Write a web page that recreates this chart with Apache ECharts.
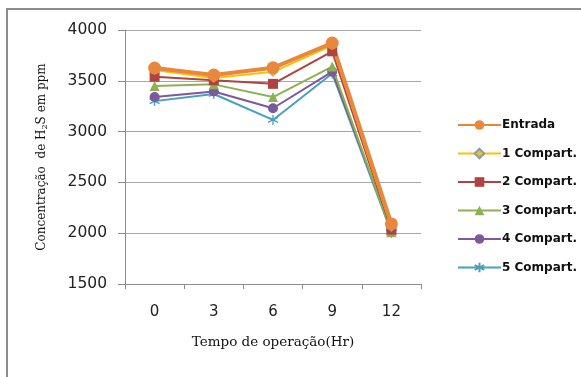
<!DOCTYPE html>
<html><head><meta charset="utf-8">
<script src="https://cdn.jsdelivr.net/npm/echarts@6/dist/echarts.min.js"></script>
<style>html,body{margin:0;padding:0;background:#fff}#c{width:581px;height:377px}</style>
</head><body><div id="c"></div>
<script>
var categories = ['0', '3', '6', '9', '12'];
var seriesNames = ['Entrada', '1 Compart.', '2 Compart.', '3 Compart.', '4 Compart.', '5 Compart.'];
var entrada = [3626, 3557, 3628, 3872, 2091];
var comp1 = [3605, 3528, 3588, 3850, 2060];
var comp2 = [3540, 3505, 3470, 3790, 2035];
var comp3 = [3450, 3465, 3340, 3640, 2010];
var comp4 = [3340, 3395, 3230, 3590, 2030];
var comp5 = [3300, 3370, 3115, 3572, 2005];
var yTicks = [1500, 2000, 2500, 3000, 3500, 4000];

var chart = echarts.init(document.getElementById('c'));
var asterisk = 'path://M0,-10L0,10M-8.66,-5L8.66,5M-8.66,5L8.66,-5';
function s(name, data, color, symbol, size, lw, extra) {
  var o = {
    name: name, type: 'line', data: data, symbol: symbol, symbolSize: size,
    lineStyle: {color: color, width: lw},
    itemStyle: {color: color},
    z: 2
  };
  if (extra) for (var k in extra) o[k] = extra[k];
  return o;
}
chart.setOption({
  animation: false,
  graphic: [{type: 'rect', shape: {x: 7, y: 9, width: 620, height: 420}, style: {fill: 'none', stroke: '#8c8c8c', lineWidth: 2}}],
  grid: {left: 125, right: 160, top: 30, bottom: 93},
  legend: {
    orient: 'vertical', left: 452, top: 114, itemWidth: 43, itemHeight: 12, itemGap: 16.5,
    data: seriesNames,
    textStyle: {fontFamily: 'DejaVu Sans', fontSize: 12, fontWeight: 'bold', color: '#111', padding: [0, 0, 0, -4]}
  },
  xAxis: {
    type: 'category', data: categories, boundaryGap: true,
    name: 'Tempo de operação(Hr)', nameLocation: 'middle', nameGap: 51,
    nameTextStyle: {fontFamily: 'DejaVu Serif', fontSize: 13.5, color: '#111'},
    axisLine: {lineStyle: {color: '#8c8c8c', width: 1}},
    axisTick: {show: true, alignWithLabel: false, length: 5, lineStyle: {color: '#8c8c8c'}},
    axisLabel: {fontFamily: 'DejaVu Sans', fontSize: 15, color: '#222', margin: 21}
  },
  yAxis: {
    type: 'value', min: yTicks[0], max: yTicks[yTicks.length - 1], interval: 500,
    name: 'Concentração  de H{sub|2}S em ppm', nameLocation: 'middle', nameGap: 76,
    nameTextStyle: {fontFamily: 'DejaVu Serif', fontSize: 12, color: '#111',
      rich: {sub: {fontFamily: 'DejaVu Serif', fontSize: 8, verticalAlign: 'bottom', padding: [6, 0, 0, 0]}}},
    axisLine: {show: true, lineStyle: {color: '#8c8c8c', width: 1}},
    axisTick: {show: true, length: 7, lineStyle: {color: '#8c8c8c'}},
    axisLabel: {fontFamily: 'DejaVu Sans', fontSize: 15.5, color: '#222', margin: 18, formatter: function (v) { return String(v); }},
    splitLine: {lineStyle: {color: '#a6a6a6', width: 1}}
  },
  series: [
    s('5 Compart.', comp5, '#46a0be', asterisk, 10, 2, {itemStyle: {color: 'transparent', borderColor: '#46a0be', borderWidth: 1.3}}),
    s('4 Compart.', comp4, '#7a5a9c', 'circle', 10, 2),
    s('3 Compart.', comp3, '#8db150', 'triangle', 10, 2),
    s('2 Compart.', comp2, '#b0433f', 'rect', 10, 2),
    s('1 Compart.', comp1, '#ffc000', 'diamond', 9, 2, {itemStyle: {color: '#ffc000', borderColor: '#8a9bb0', borderWidth: 1}}),
    s('Entrada', entrada, '#e8883c', 'circle', 13, 4)
  ]
});
</script></body></html>
